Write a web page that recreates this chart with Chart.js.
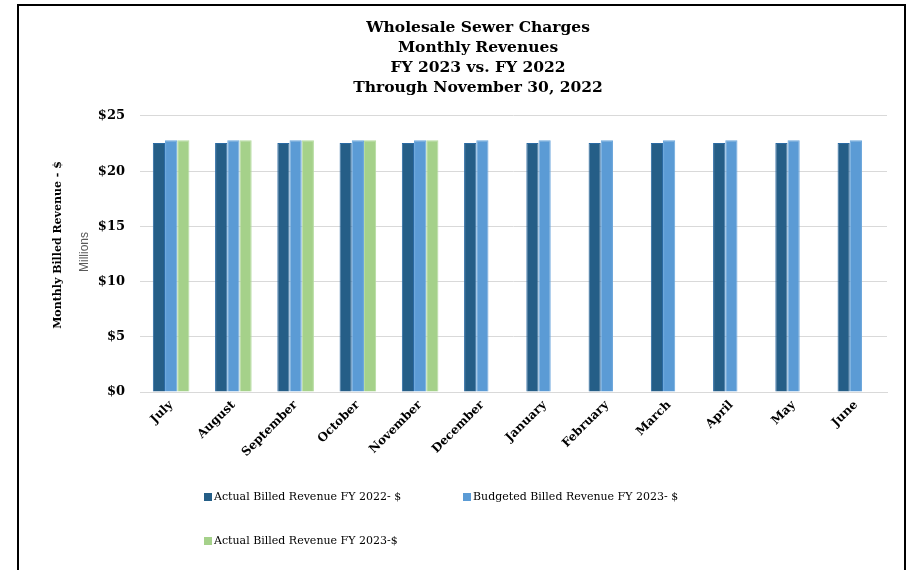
<!DOCTYPE html>
<html>
<head>
<meta charset="utf-8">
<script src="https://cdn.jsdelivr.net/npm/chart.js@4/dist/chart.umd.min.js"></script>
<style>
  html, body { margin: 0; padding: 0; background: #fff; }
  #wrap { position: relative; width: 910px; height: 570px; }
  #frame {
    position: absolute; left: 17px; top: 4px; width: 889px; height: 600px;
    border: 2px solid #000; box-sizing: border-box; pointer-events: none;
  }
</style>
</head>
<body>
<div id="wrap">
  <canvas id="chart" width="910" height="570"></canvas>
  <div id="frame"></div>
</div>
<script>
// values in $ millions
var months = ['July', 'August', 'September', 'October', 'November', 'December',
              'January', 'February', 'March', 'April', 'May', 'June'];
var actualFY22 = [22.55, 22.55, 22.55, 22.55, 22.55, 22.55, 22.55, 22.55, 22.55, 22.55, 22.55, 22.55];
var budgetFY23 = [22.8, 22.8, 22.8, 22.8, 22.8, 22.8, 22.8, 22.8, 22.8, 22.8, 22.8, 22.8];
var actualFY23 = [22.8, 22.8, 22.8, 22.8, 22.8, null, null, null, null, null, null, null];
var seriesNames = ['Actual Billed Revenue FY 2022- $', 'Budgeted Billed Revenue FY 2023- $', 'Actual Billed Revenue FY 2023-$'];
var titleLines = ['Wholesale Sewer Charges', 'Monthly Revenues', 'FY 2023 vs. FY 2022', 'Through November 30, 2022'];

var serif = "'DejaVu Serif', 'Liberation Serif', serif";

// y axis title drawn by hand (two lines, two styles)
var yTitlePlugin = {
  id: 'yTitle',
  afterDraw: function(chart) {
    var ctx = chart.ctx;
    var mid = (chart.chartArea.top + chart.chartArea.bottom) / 2;
    ctx.save();
    ctx.textAlign = 'center';
    ctx.textBaseline = 'middle';
    ctx.translate(58, mid - 9);
    ctx.rotate(-Math.PI / 2);
    ctx.font = 'bold 11px ' + serif;
    ctx.fillStyle = '#000';
    ctx.fillText('Monthly Billed Revenue - $', 0, 0);
    ctx.restore();
    ctx.save();
    ctx.textAlign = 'center';
    ctx.textBaseline = 'middle';
    ctx.translate(85, mid - 2);
    ctx.rotate(-Math.PI / 2);
    ctx.font = "12px 'Liberation Sans', Arial, sans-serif";
    ctx.fillStyle = '#595959';
    ctx.fillText('Millions', 0, 0);
    ctx.restore();
  }
};

// legend in two columns like the original
var legendSlots = [[204, 497], [463, 497], [204, 541]];
var legendPlugin = {
  id: 'gridLegend',
  afterDraw: function(chart) {
    var ctx = chart.ctx;
    ctx.save();
    ctx.font = '11px ' + serif;
    ctx.textBaseline = 'middle';
    ctx.textAlign = 'left';
    chart.data.datasets.forEach(function(ds, i) {
      var p = legendSlots[i];
      ctx.fillStyle = ds.backgroundColor;
      ctx.fillRect(p[0], p[1] - 4, 8, 8);
      ctx.fillStyle = '#000';
      ctx.fillText(ds.label, p[0] + 10, p[1]);
    });
    ctx.restore();
  }
};

var ctx = document.getElementById('chart').getContext('2d');
var chart = new Chart(ctx, {
  type: 'bar',
  data: {
    labels: months,
    datasets: [
      { label: seriesNames[0], data: actualFY22, backgroundColor: '#255E87', borderColor: '#2A6AA3', borderWidth: 1 },
      { label: seriesNames[1], data: budgetFY23, backgroundColor: '#5B9BD5', borderColor: '#6AA6DC', borderWidth: 1 },
      { label: seriesNames[2], data: actualFY23, backgroundColor: '#A5D18A', borderColor: '#B5DCA0', borderWidth: 1 }
    ]
  },
  options: {
    responsive: false,
    animation: false,
    layout: { padding: { left: 69, right: 23, top: 18, bottom: 108 } },
    datasets: { bar: { categoryPercentage: 0.588, barPercentage: 1 } },
    plugins: {
      legend: { display: false },
      tooltip: { enabled: false },
      title: {
        display: true,
        text: titleLines,
        color: '#000',
        font: { family: serif, size: 15.5, weight: 'bold', lineHeight: 1.29 },
        padding: { top: 0, bottom: 18 }
      }
    },
    scales: {
      x: {
        grid: { display: false, drawTicks: false },
        border: { display: true, color: '#D9D9D9' },
        ticks: {
          color: '#000',
          font: { family: serif, size: 12, weight: 'bold' },
          maxRotation: 45, minRotation: 45, padding: 6, autoSkip: false
        },
        afterFit: function(scale) { scale.height = 70; }
      },
      y: {
        min: 0, max: 25,
        grid: { color: '#D9D9D9', drawTicks: false },
        border: { display: false },
        ticks: {
          stepSize: 5, padding: 15, color: '#000',
          font: { family: serif, size: 13, weight: 'bold' },
          callback: function(v) { return '$' + v; }
        },
        afterFit: function(scale) { scale.width = 71; }
      }
    }
  },
  plugins: [yTitlePlugin, legendPlugin]
});
</script>
</body>
</html>
